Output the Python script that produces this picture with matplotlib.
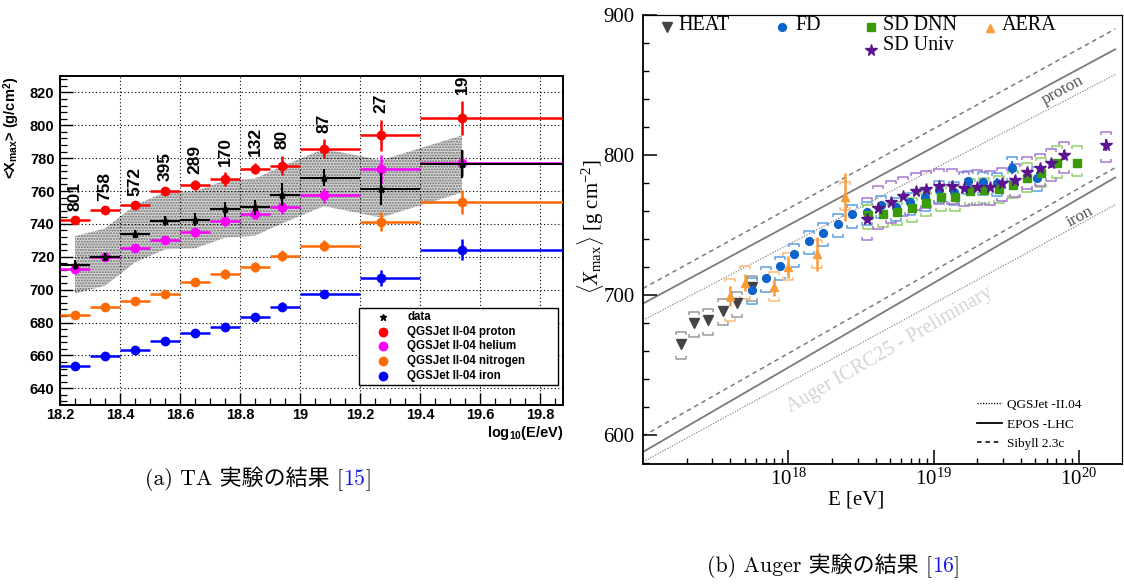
import numpy as np
import matplotlib
matplotlib.use("Agg")
import matplotlib.pyplot as plt
from matplotlib.path import Path
from matplotlib.markers import MarkerStyle
from matplotlib.patches import Rectangle
from matplotlib.ticker import MultipleLocator, FixedLocator, FixedFormatter, FuncFormatter, LogLocator, NullFormatter

plt.rcParams['mathtext.fontset'] = 'custom'
plt.rcParams['mathtext.rm'] = 'Liberation Serif'
plt.rcParams['mathtext.it'] = 'Liberation Serif:italic'
plt.rcParams['mathtext.bf'] = 'Liberation Sans:bold'
plt.rcParams['mathtext.sf'] = 'Liberation Sans'

# ---------------- TA data (left panel) ----------------
ta_bin_edges = [18.2, 18.3, 18.4, 18.5, 18.6, 18.7, 18.8, 18.9, 19.0, 19.2, 19.4, 20.0]
ta_loge = [18.25, 18.35, 18.45, 18.55, 18.65, 18.75, 18.85, 18.94, 19.08, 19.27, 19.54]
ta_counts = ['801', '758', '572', '395', '289', '170', '132', '80', '87', '27', '19']
ta_data = [715.1, 719.8, 734.0, 741.9, 742.5, 749.0, 750.2, 757.7, 768.2, 761.3, 776.5]
ta_data_err = [3.0, 2.5, 2.5, 3.0, 4.0, 4.5, 4.5, 7.0, 5.3, 9.6, 8.3]
ta_sys = 17.4
ta_proton = [742.1, 748.6, 751.2, 760.1, 763.6, 767.2, 773.7, 775.5, 785.8, 794.0, 804.3]
ta_proton_err = [1.5, 1.5, 2.0, 2.3, 3.0, 4.2, 3.5, 6.0, 5.8, 9.4, 10.5]
ta_helium = [712.6, 719.6, 725.3, 730.3, 734.8, 741.9, 746.1, 750.0, 757.5, 773.5, 777.0]
ta_helium_err = [1.5, 1.5, 2.0, 2.2, 2.5, 3.0, 3.0, 4.0, 4.5, 8.6, 8.0]
ta_nitrogen = [684.8, 689.7, 693.3, 697.6, 704.7, 709.5, 714.0, 720.7, 726.8, 741.4, 753.3]
ta_nitrogen_err = [1.3, 1.5, 1.5, 1.8, 2.0, 3.0, 3.0, 3.5, 3.5, 6.0, 7.5]
ta_iron = [653.6, 659.7, 663.5, 668.8, 673.7, 677.1, 683.2, 689.7, 697.4, 707.3, 724.3]
ta_iron_err = [1.0, 1.0, 1.2, 1.3, 1.5, 1.8, 2.0, 3.0, 2.5, 4.9, 6.5]
ta_legend = ['data', 'QGSJet II-04 proton', 'QGSJet II-04 helium',
             'QGSJet II-04 nitrogen', 'QGSJet II-04 iron']

# ---------------- Auger data (right panel) ----------------
heat_loge = [17.26, 17.35, 17.45, 17.55, 17.65, 17.75]
heat_x = [665.5, 680.2, 682.1, 688.8, 694.5, 705.5]
heat_sys_up = [8.3, 8.0, 8.3, 8.3, 8.0, 8.0]
heat_sys_dn = [10.7, 10.0, 10.7, 10.3, 10.0, 10.0]

fd_loge = [17.75, 17.85, 17.94, 18.04, 18.14, 18.24, 18.34, 18.44, 18.54, 18.64,
           18.74, 18.84, 18.94, 19.04, 19.14, 19.24, 19.34, 19.44, 19.54, 19.71]
fd_x = [704.0, 712.4, 720.5, 729.5, 738.6, 744.5, 750.8, 757.6, 759.5, 764.3,
        762.6, 766.4, 769.8, 775.0, 773.8, 781.4, 781.0, 780.2, 791.0, 784.0]
fd_stat = [1.5, 1.5, 1.5, 1.5, 1.5, 1.5, 1.5, 1.5, 1.5, 1.5,
           1.5, 2.0, 2.0, 2.5, 2.5, 3.0, 3.0, 3.5, 4.5, 4.0]
fd_sys_up = [8.3, 7.5, 7.0, 7.0, 7.0, 7.0, 7.0, 6.7, 6.7, 6.7,
             6.7, 6.7, 6.7, 6.7, 6.7, 7.0, 7.0, 7.0, 7.5, 7.5]
fd_sys_dn = [10.0, 9.8, 9.6, 9.5, 9.5, 9.5, 9.5, 9.5, 9.5, 9.5,
             9.5, 9.5, 9.5, 9.5, 9.5, 9.5, 9.5, 9.5, 9.5, 9.5]

sddnn_loge = [18.55, 18.65, 18.75, 18.85, 18.95, 19.05, 19.15, 19.25, 19.35, 19.45,
              19.55, 19.64, 19.74, 19.85, 19.99]
sddnn_x = [757.1, 758.3, 759.3, 761.9, 765.8, 769.8, 769.8, 774.2, 774.9, 775.6,
           778.6, 783.5, 787.0, 794.2, 794.3]
sddnn_stat = [1.0, 1.0, 1.0, 1.0, 1.0, 1.0, 1.0, 1.2, 1.2, 1.5, 1.5, 2.0, 2.0, 2.5, 3.0]
sddnn_sys_up = [7.0, 7.0, 7.0, 7.5, 7.5, 8.0, 8.0, 8.5, 9.0, 9.5, 10.0, 10.5, 11.0, 12.0, 12.5]
sddnn_sys_dn = [9.5, 9.5, 9.5, 9.5, 9.5, 9.5, 9.5, 9.5, 9.5, 9.5, 9.5, 9.5, 10.0, 10.5, 9.0]

sdu_loge = [18.54, 18.62, 18.71, 18.79, 18.88, 18.95, 19.04, 19.13, 19.21, 19.30,
            19.39, 19.47, 19.56, 19.64, 19.73, 19.81, 19.90, 20.19]
sdu_x = [754.2, 762.3, 766.2, 770.5, 774.3, 775.5, 777.9, 777.9, 776.2, 777.2,
         777.2, 779.8, 782.4, 788.0, 790.5, 794.0, 800.0, 807.1]
sdu_stat = [2.5, 2.0, 2.0, 2.0, 2.0, 2.0, 2.0, 2.0, 2.0, 2.0,
            2.0, 2.0, 2.5, 2.5, 2.5, 3.0, 3.5, 4.5]
sdu_sys_up = [15.5, 15.5, 15.0, 14.0, 13.0, 13.0, 12.5, 12.5, 12.0, 12.0,
              11.5, 11.0, 11.0, 10.5, 10.0, 10.0, 9.5, 9.5]
sdu_sys_dn = [15.0, 15.0, 14.5, 14.0, 13.5, 13.0, 13.0, 13.0, 12.5, 12.5,
              12.5, 12.5, 12.5, 12.5, 12.5, 12.5, 12.5, 12.0]

aera_loge = [17.60, 17.70, 17.90, 18.00, 18.20, 18.39]
aera_x = [699.5, 709.0, 705.5, 720.2, 729.3, 770.2]
aera_stat = [7.1, 6.0, 6.0, 7.9, 12.0, 17.0]
aera_sys_up = [12.4, 11.7, 10.7, 10.2, 9.8, 10.7]
aera_sys_dn = [17.9, 11.4, 9.3, 9.5, 10.0, 9.5]

model_loge = [17.0, 20.25]
sibyll_p = [704.8, 890.0]
epos_p = [694.0, 875.5]
qgs_p = [682.1, 857.5]
sibyll_fe = [599.5, 791.0]
epos_fe = [588.1, 784.0]
qgs_fe = [581.0, 764.5]

# ---------------- figure ----------------
W, H = 1124, 585
fig = plt.figure(figsize=(W / 100, H / 100), dpi=100)


def px_axes(l, t, r, b):
    return fig.add_axes([l / W, 1 - b / H, (r - l) / W, (b - t) / H])


SANS = 'Liberation Sans'
SERIF = 'Liberation Serif'

# ================= LEFT: TA =================
axL = px_axes(60, 76, 563, 405)
axL.set_xlim(18.2, 19.877)
axL.set_ylim(629.8, 830)

edges = np.array(ta_bin_edges)
xL = np.array(ta_loge)
xlo = xL - edges[:-1]
xhi = edges[1:] - xL

dat = np.array(ta_data)
axL.fill_between(xL, dat - ta_sys, dat + ta_sys, facecolor='#d6d6d6',
                 edgecolor='#6e6e6e', hatch='......', linewidth=0, zorder=1)

series = [(ta_iron, ta_iron_err, '#0000ff'),
          (ta_nitrogen, ta_nitrogen_err, '#ff6a00'),
          (ta_proton, ta_proton_err, '#ff0000'),
          (ta_helium, ta_helium_err, '#ff00ff')]
for vals, errs, c in series:
    axL.errorbar(xL, vals, xerr=[xlo, xhi], yerr=errs, fmt='o', color=c, ms=6,
                 elinewidth=1.8, capsize=0, zorder=3, clip_on=True)
axL.errorbar(xL, ta_data, xerr=[xlo, xhi], yerr=ta_data_err, fmt='*', color='k',
             ms=6, elinewidth=1.5, capsize=0, zorder=4)

for xi, p, pe, lab in zip(xL, ta_proton, ta_proton_err, ta_counts):
    axL.text(xi, p + pe + 4, lab, rotation=90, ha='center', va='bottom',
             fontsize=12.5, fontweight='bold', family=SANS, zorder=5)

axL.xaxis.set_major_locator(MultipleLocator(0.2))
axL.xaxis.set_minor_locator(MultipleLocator(0.05))
axL.yaxis.set_major_locator(MultipleLocator(20))
axL.yaxis.set_minor_locator(MultipleLocator(4))
axL.xaxis.set_major_formatter(FuncFormatter(lambda v, p: '%g' % round(v, 2)))
axL.yaxis.set_major_formatter(FuncFormatter(lambda v, p: '%d' % round(v)))
axL.grid(True, which='major', linestyle=(0, (1, 2.2)), color='black', lw=0.8, zorder=0)
axL.tick_params(which='major', direction='in', length=9, width=1.0, labelsize=10.5, pad=4)
axL.tick_params(axis='x', which='major', pad=2.5)
axL.tick_params(which='minor', direction='in', length=5, width=0.9)
for lab in axL.get_xticklabels() + axL.get_yticklabels():
    lab.set_fontweight('bold')
    lab.set_family(SANS)
for s in axL.spines.values():
    s.set_linewidth(1.4)

fig.text(12 / W, 1 - 77 / H, r'<X$_{\mathbf{max}}$> (g/cm$^{\mathbf{2}}$)', rotation=90,
         ha='center', va='top', fontsize=10.5, fontweight='bold', family=SANS)
fig.text(563 / W, 1 - 424 / H, r'log$_{\mathbf{10}}$(E/eV)', ha='right', va='top',
         fontsize=10.5, fontweight='bold', family=SANS)

# legend box (TA)
lx0, lx1 = (359 - 60) / 503, (558 - 60) / 503
ly0, ly1 = (405 - 385) / 329, (405 - 308) / 329
axL.add_patch(Rectangle((lx0, ly0), lx1 - lx0, ly1 - ly0, transform=axL.transAxes,
                        facecolor='white', edgecolor='black', lw=1.0, zorder=6))
leg_rows = [317, 331.5, 346, 361, 375.5]
leg_styles = [('*', 'k', 5), ('o', '#ff0000', 6), ('o', '#ff00ff', 6),
              ('o', '#ff6a00', 6), ('o', '#0000ff', 6)]
for ry, lab, (mk, c, ms) in zip(leg_rows, ta_legend, leg_styles):
    yy = (405 - ry) / 329
    axL.plot([(383 - 60) / 503], [yy], marker=mk, color=c, ms=ms, ls='none',
             transform=axL.transAxes, zorder=7, clip_on=False)
    axL.text((407 - 60) / 503, yy, lab, transform=axL.transAxes, ha='left', va='center',
             fontsize=8.3, fontweight='bold', family=SANS, zorder=7)

# ================= RIGHT: Auger =================
axR = px_axes(643, 15, 1122, 464)
axR.set_xscale('log')
axR.set_xlim(1e17, 10 ** 20.297)
axR.set_ylim(579.5, 900)

mE = 10 ** np.array(model_loge)
lc = '#7a7a7a'
for vals in (sibyll_p, sibyll_fe):
    axR.plot(mE, vals, color=lc, lw=1.1, ls=(0, (3, 2.5)), zorder=1)
for vals in (epos_p, epos_fe):
    axR.plot(mE, vals, color=lc, lw=1.3, ls='-', zorder=1)
for vals in (qgs_p, qgs_fe):
    axR.plot(mE, vals, color='#8a8a8a', lw=0.9, ls=(0, (1, 1.2)), zorder=1)

top_br = MarkerStyle(Path([(-1, -0.6), (-1, 0), (1, 0), (1, -0.6)],
                          [Path.MOVETO, Path.LINETO, Path.LINETO, Path.LINETO]))
bot_br = MarkerStyle(Path([(-1, 0.6), (-1, 0), (1, 0), (1, 0.6)],
                          [Path.MOVETO, Path.LINETO, Path.LINETO, Path.LINETO]))


def sys_brackets(loge, vals, up, dn, col):
    e = 10 ** np.array(loge)
    v = np.array(vals)
    axR.plot(e, v + np.array(up), ls='none', marker=top_br, ms=7.5, mec=col,
             mfc='none', mew=1.1, zorder=2)
    axR.plot(e, v - np.array(dn), ls='none', marker=bot_br, ms=7.5, mec=col,
             mfc='none', mew=1.1, zorder=2)


c_heat, c_fd, c_dnn, c_aera, c_sdu = '#444444', '#0c63c9', '#3a9a08', '#f99c3a', '#5b138f'
sys_brackets(heat_loge, heat_x, heat_sys_up, heat_sys_dn, '#9a9a9a')
sys_brackets(fd_loge, fd_x, fd_sys_up, fd_sys_dn, '#5aa0e0')
sys_brackets(sddnn_loge, sddnn_x, sddnn_sys_up, sddnn_sys_dn, '#8fcf6a')
sys_brackets(sdu_loge, sdu_x, sdu_sys_up, sdu_sys_dn, '#a676d0')
sys_brackets(aera_loge, aera_x, aera_sys_up, aera_sys_dn, '#fbbd7a')

axR.plot(10 ** np.array(heat_loge), heat_x, 'v', color=c_heat, ms=6.5, zorder=3)
axR.errorbar(10 ** np.array(fd_loge), fd_x, yerr=fd_stat, fmt='o', color=c_fd, ms=5.6,
             elinewidth=1.3, capsize=0, zorder=4)
axR.errorbar(10 ** np.array(sddnn_loge), sddnn_x, yerr=sddnn_stat, fmt='s', color=c_dnn,
             ms=6.0, elinewidth=1.3, capsize=0, zorder=4)
axR.errorbar(10 ** np.array(sdu_loge), sdu_x, yerr=sdu_stat, fmt='*', color=c_sdu,
             ms=8.5, elinewidth=1.3, capsize=0, zorder=5)
axR.errorbar(10 ** np.array(aera_loge), aera_x, yerr=aera_stat, fmt='^', color=c_aera,
             ms=6.3, elinewidth=1.8, capsize=0, zorder=5)

# axis styling
axR.xaxis.set_major_locator(FixedLocator([1e18, 1e19, 1e20]))
axR.xaxis.set_major_formatter(FixedFormatter([r'$10^{18}$', r'$10^{19}$', r'$10^{20}$']))
axR.xaxis.set_minor_locator(LogLocator(base=10, subs=np.arange(2, 10), numticks=20))
axR.xaxis.set_minor_formatter(NullFormatter())
axR.yaxis.set_major_locator(MultipleLocator(100))
axR.yaxis.set_minor_locator(MultipleLocator(20))
axR.tick_params(which='major', direction='in', length=10, width=1.1, labelsize=15, pad=6)
axR.tick_params(axis='x', which='major', pad=3)
axR.tick_params(which='minor', direction='in', length=4.5, width=1.0)
for lab in axR.get_xticklabels() + axR.get_yticklabels():
    lab.set_family(SERIF)
for s in axR.spines.values():
    s.set_linewidth(1.3)
axR.spines['top'].set_linewidth(0.9)
axR.spines['right'].set_linewidth(0.9)

axR.set_ylabel(r'$\langle X_{\rm max}\rangle$ [g cm$^{-2}$]', fontsize=15, family=SERIF)
axR.yaxis.set_label_coords(-0.077, 0.53)
axR.set_xlabel('E [eV]', fontsize=15, family=SERIF)
axR.xaxis.set_label_coords(0.444, -0.058)

# top legend
tl_items = [('v', c_heat, 6.5, 'HEAT', 667, 27, 678, 30),
            ('o', c_fd, 5.6, 'FD', 781.5, 27, 795, 30),
            ('s', c_dnn, 6.0, 'SD DNN', 870.5, 26.5, 883, 30),
            ('^', c_aera, 6.3, 'AERA', 990, 28, 1002, 30),
            ('*', c_sdu, 8.5, 'SD Univ', 870.5, 49.5, 883, 50.5)]
for mk, c, ms, lab, mx, my, tx, ty in tl_items:
    axR.plot([(mx - 643) / 479], [(464 - my) / 449], marker=mk, color=c, ms=ms, ls='none',
             transform=axR.transAxes, clip_on=False, zorder=6)
    axR.text((tx - 643) / 479, (464 - ty) / 449, lab, transform=axR.transAxes, ha='left',
             va='baseline', fontsize=14.5, family=SERIF)

# model legend
ml_items = [('QGSJet -II.04', (0, (1, 1.2)), 0.9, 403, 408.5),
            ('EPOS -LHC', '-', 1.3, 423, 428.5),
            ('Sibyll 2.3c', (0, (3, 2.5)), 1.1, 442, 447)]
for lab, ls, lw, ly, tyb in ml_items:
    axR.plot([(977 - 643) / 479, (1002 - 643) / 479], [(464 - ly) / 449] * 2, color='k',
             ls=ls, lw=lw, transform=axR.transAxes, zorder=6)
    axR.text((1007 - 643) / 479, (464 - tyb) / 449, lab, transform=axR.transAxes,
             ha='left', va='baseline', fontsize=9.5, family=SERIF)

axR.text(10 ** 19.89, 846.4, 'proton', rotation=28.5, rotation_mode='anchor', ha='center',
         va='center', fontsize=12.5, family=SERIF, color='#555555', zorder=2)
axR.text(10 ** 20.007, 756.0, 'iron', rotation=28.5, rotation_mode='anchor', ha='center',
         va='center', fontsize=12.5, family=SERIF, color='#555555', zorder=2)
axR.text(10 ** 18.70, 660.7, 'Auger ICRC25 - Preliminary', rotation=30,
         rotation_mode='anchor', ha='center', va='center', fontsize=14.5, family=SERIF,
         color='#d4d4d4', zorder=0)

# ================= captions =================
CAP_FAM = ['cmr10', 'Noto Sans CJK JP']
CAP_SIZE = 15.8


def caption(x_px, y_px, parts):
    yf = 1 - y_px / H
    t = fig.text(x_px / W, yf, parts[0][0], color=parts[0][1], fontsize=CAP_SIZE,
                 family=CAP_FAM, ha='left', va='baseline')
    for txt, col in parts[1:]:
        t = axL.annotate(txt, xy=(1, yf), xycoords=(t, 'figure fraction'), color=col,
                         fontsize=CAP_SIZE, family=CAP_FAM, ha='left', va='baseline',
                         annotation_clip=False)


caption(145, 485, [('(a) TA 実験の結果 [', 'black'), ('15', '#1a1af0'), (']', 'black')])
caption(707, 572, [('(b) Auger 実験の結果 [', 'black'), ('16', '#1a1af0'), (']', 'black')])

fig.savefig('out.png', dpi=100)
